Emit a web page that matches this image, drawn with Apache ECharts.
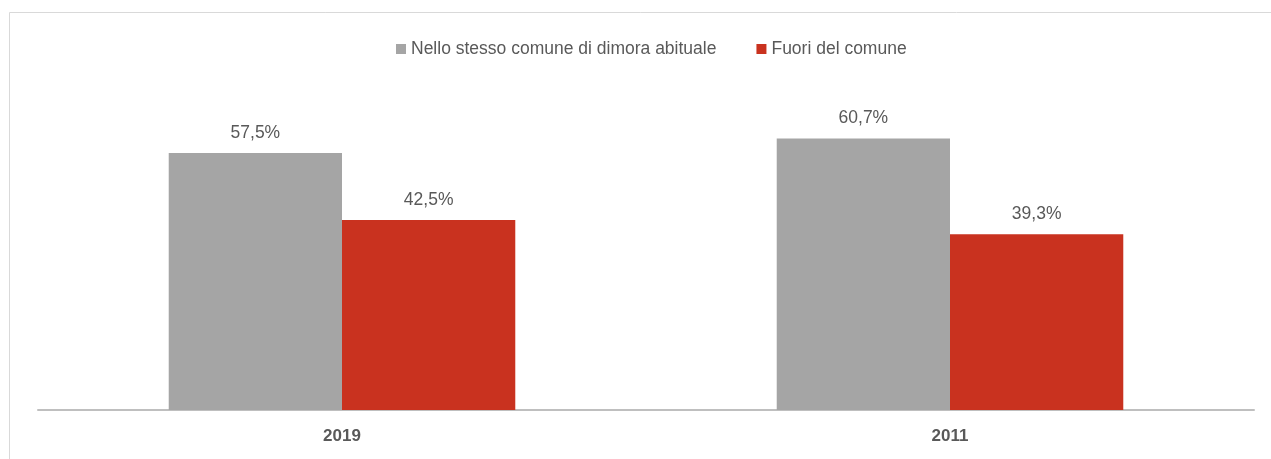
<!DOCTYPE html>
<html>
<head>
<meta charset="utf-8">
<script src="https://cdn.jsdelivr.net/npm/echarts@6/dist/echarts.min.js"></script>
<style>
  html, body { margin: 0; padding: 0; background: #fff; }
  #chart { width: 1271px; height: 459px; }
</style>
</head>
<body>
<div id="chart"></div>
<script>
// Anni di riferimento e quote percentuali per luogo
const years = ['2019', '2011'];
const seriesNames = ['Nello stesso comune di dimora abituale', 'Fuori del comune'];
const stessoComune = [57.5, 60.7];
const fuoriComune = [42.5, 39.3];

const FONT = '"Liberation Sans", Arial, sans-serif';
const TEXT = '#595959';

const fmt = v => v.toFixed(1).replace('.', ',') + '%';

const chart = echarts.init(document.getElementById('chart'), null, { renderer: 'canvas' });

const labelStyle = {
  show: true,
  position: 'top',
  distance: 11,
  color: TEXT,
  fontFamily: FONT,
  fontSize: 17.5,
  formatter: p => fmt(p.value)
};

chart.setOption({
  animation: false,
  backgroundColor: '#fff',
  graphic: [{
    type: 'rect',
    shape: { x: 9.5, y: 12.5, width: 1300, height: 500 },
    style: { fill: 'none', stroke: '#D9D9D9', lineWidth: 1 },
    silent: true,
    z: -10
  }],
  legend: {
    data: seriesNames,
    left: 396,
    top: 40,
    padding: 0,
    itemWidth: 10,
    itemHeight: 10,
    itemGap: 40,
    icon: 'rect',
    textStyle: { color: TEXT, fontFamily: FONT, fontSize: 17.5 }
  },
  grid: { left: 38, right: 17, top: 97, bottom: 49, containLabel: false },
  xAxis: {
    type: 'category',
    data: years,
    axisLine: { lineStyle: { color: '#BFBFBF', width: 2 } },
    axisTick: { show: false },
    axisLabel: { color: TEXT, fontFamily: FONT, fontSize: 17, fontWeight: 'bold', margin: 18 }
  },
  yAxis: {
    type: 'value',
    min: 0,
    max: 70,
    show: false,
    splitLine: { show: false }
  },
  series: [
    {
      name: seriesNames[0],
      type: 'bar',
      data: stessoComune,
      barGap: '0%',
      barCategoryGap: '43%',
      itemStyle: { color: '#A5A5A5' },
      label: labelStyle
    },
    {
      name: seriesNames[1],
      type: 'bar',
      data: fuoriComune,
      itemStyle: { color: '#C9321F' },
      label: labelStyle
    }
  ]
});
</script>
</body>
</html>
